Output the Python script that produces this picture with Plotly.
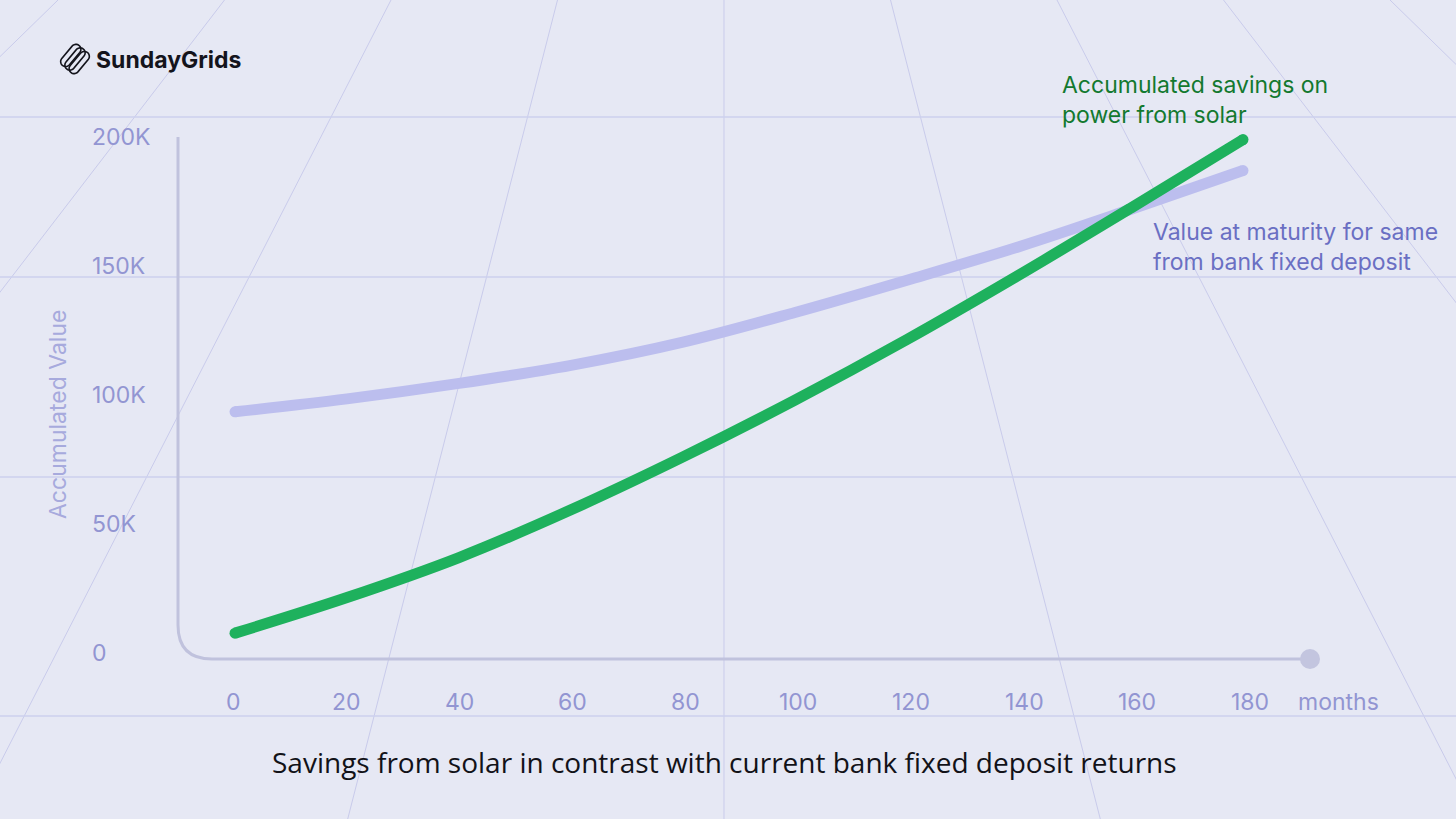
import math
import plotly.graph_objects as go

W, H = 1456, 819

# data
months = [0, 20, 40, 60, 80, 100, 120, 140, 160, 180]
solar_savings = [7700, 21500, 37000, 55500, 76000, 98000, 121500, 146500, 172500, 199000]
fd_value = [93500, 98500, 104500, 111500, 120500, 132000, 144500, 157500, 172000, 187000]

y_ticks = [0, 50000, 100000, 150000, 200000]
y_tick_labels = ["0", "50K", "100K", "150K", "200K"]
x_ticks = [0, 20, 40, 60, 80, 100, 120, 140, 160, 180]

# the plot area fills the whole page, so pixel positions map straight to data
X0_PX, PX_PER_MONTH = 235, 5.6
Y0_PX, PX_PER_UNIT = 653, 516 / 200000


def to_x(px):
    return (px - X0_PX) / PX_PER_MONTH


def to_y(py):
    return (Y0_PX - py) / PX_PER_UNIT


BG = "#e6e8f4"
GRID = "#c9cbeb"
TICK_COL = "#9295d2"
AXIS_COL = "#c0c2dd"
GREEN = "#1eb15d"
LAVENDER = "#bcbeee"
FONT = "Inter"

fig = go.Figure()

shapes = []

# decorative perspective grid in the background
VP_Y = -650
for n in range(-4, 5):
    top_x = 724 + 166.5 * n
    bot_x = 724 + 166.5 * n * (1 + H / -VP_Y)
    shapes.append(dict(type="line", x0=to_x(top_x), y0=to_y(0), x1=to_x(bot_x), y1=to_y(H),
                       line=dict(color=GRID, width=1), layer="below"))
for hy in [117, 277, 477, 716]:
    shapes.append(dict(type="line", x0=to_x(0), y0=to_y(hy), x1=to_x(W), y1=to_y(hy),
                       line=dict(color="#cdd0ee", width=1.5), layer="below"))

# axis line with the rounded corner and end dot
r = 34
ax_x = to_x(178)
base_y = to_y(659)
path = (f"M {ax_x},{to_y(137)} L {ax_x},{to_y(659 - r)} "
        f"Q {ax_x},{base_y} {to_x(178 + r)},{base_y} L {to_x(1310)},{base_y}")
shapes.append(dict(type="path", path=path, line=dict(color=AXIS_COL, width=3), layer="below"))
shapes.append(dict(type="circle", x0=to_x(1300), x1=to_x(1320), y0=to_y(669), y1=to_y(649),
                   fillcolor="#c3c5df", line=dict(width=0), layer="below"))

# logo mark: three tilted loops
cx, cy = 75, 59
ang = math.radians(-50)
for off in [-5.5, 0, 5.5]:
    pts = []
    half, rad = 8, 5
    for k in range(0, 181, 15):
        t = math.radians(k)
        pts.append((half + rad * math.sin(t), rad * math.cos(t)))
    for k in range(180, 361, 15):
        t = math.radians(k)
        pts.append((-half + rad * math.sin(t), rad * math.cos(t)))
    coords = []
    for u, v in pts:
        v = v + off
        px_ = cx + u * math.cos(ang) - v * math.sin(ang)
        py_ = cy + u * math.sin(ang) + v * math.cos(ang)
        coords.append(f"{to_x(px_)},{to_y(py_)}")
    shapes.append(dict(type="path", path="M " + " L ".join(coords) + " Z",
                       line=dict(color="#14141c", width=1.6)))

# data lines
fig.add_trace(go.Scatter(x=months, y=fd_value, mode="lines", line=dict(color=LAVENDER, width=11, shape="spline"),
                         hoverinfo="x+y", name="Bank fixed deposit"))
fig.add_trace(go.Scatter(x=months, y=solar_savings, mode="lines", line=dict(color=GREEN, width=11, shape="spline"),
                         hoverinfo="x+y", name="Solar savings"))
# round caps at the line ends
for series, col in [(fd_value, LAVENDER), (solar_savings, GREEN)]:
    fig.add_trace(go.Scatter(x=[months[0], months[-1]], y=[series[0], series[-1]], mode="markers",
                             marker=dict(color=col, size=11), hoverinfo="skip"))

annotations = []
for v, lab in zip(y_ticks, y_tick_labels):
    annotations.append(dict(x=to_x(90), y=v, text=lab, showarrow=False, xanchor="left", yanchor="middle",
                            font=dict(family=FONT, size=23, color=TICK_COL)))
# month labels sit on their own, slightly wider spacing than the lines
for m in x_ticks:
    annotations.append(dict(x=to_x(233 + 5.65 * m), y=to_y(702), text=str(m), showarrow=False,
                            xanchor="center", yanchor="middle",
                            font=dict(family=FONT, size=23, color=TICK_COL)))
annotations.append(dict(x=to_x(1296), y=to_y(702), text="months", showarrow=False, xanchor="left",
                        yanchor="middle", font=dict(family=FONT, size=23, color=TICK_COL)))
annotations.append(dict(x=to_x(58), y=to_y(415), text="Accumulated Value", textangle=-90, showarrow=False,
                        font=dict(family=FONT, size=23, color="#a7aadd")))
annotations.append(dict(x=to_x(1060), y=to_y(100), text="Accumulated savings on<br>power from solar",
                        showarrow=False, xanchor="left", yanchor="middle", align="left",
                        font=dict(family=FONT, size=23, color="#13792f")))
annotations.append(dict(x=to_x(1151), y=to_y(247), text="Value at maturity for same<br>from bank fixed deposit",
                        showarrow=False, xanchor="left", yanchor="middle", align="left",
                        font=dict(family=FONT, size=23, color="#6a6fc3")))
annotations.append(dict(x=to_x(724), y=to_y(762),
                        text="Savings from solar in contrast with current bank fixed deposit returns",
                        showarrow=False, xanchor="center", yanchor="middle",
                        font=dict(family="Open Sans", size=28, color="#121218")))
annotations.append(dict(x=to_x(94), y=to_y(60), text="<b>SundayGrids</b>", showarrow=False, xanchor="left",
                        yanchor="middle", font=dict(family=FONT, size=23, color="#14141c")))

fig.update_layout(
    width=W, height=H,
    margin=dict(l=0, r=0, t=0, b=0),
    paper_bgcolor=BG, plot_bgcolor=BG,
    showlegend=False,
    shapes=shapes,
    annotations=annotations,
    xaxis=dict(range=[to_x(0), to_x(W)], visible=False, fixedrange=True),
    yaxis=dict(range=[to_y(H), to_y(0)], visible=False, fixedrange=True),
)

# drop the page's default body margin so the figure fills the window
fig.write_html("out.html", config={"displayModeBar": False},
               post_script="document.body.style.margin='0';")
